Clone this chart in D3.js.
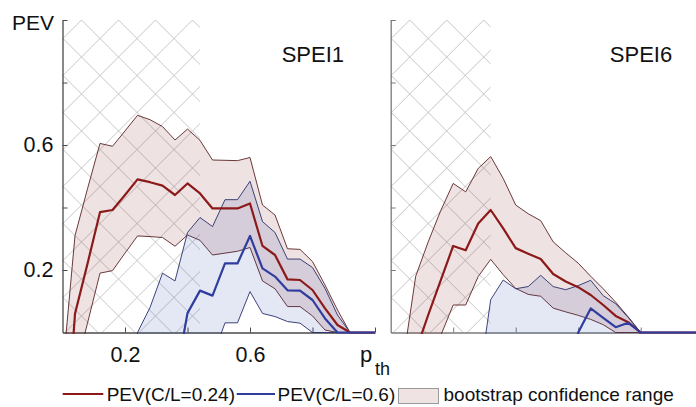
<!DOCTYPE html>
<html>
<head>
<meta charset="utf-8">
<script src="https://cdn.jsdelivr.net/npm/d3@7/dist/d3.min.js"></script>
<style>
  html, body { margin: 0; padding: 0; background: #fff; }
  svg { display: block; font-family: "Liberation Sans", Arial, Helvetica, sans-serif; }
</style>
</head>
<body>
<svg id="chart" width="696" height="407"></svg>
<script>
// ---------------- data ----------------
const pth = [0.00,0.04,0.08,0.12,0.16,0.20,0.24,0.28,0.32,0.36,0.40,0.44,0.48,0.52,0.56,0.60,0.64,0.68,0.72,0.76,0.80,0.84,0.88,0.92,0.96,1.00];

// SPEI1 panel
const spei1_pev024 = [-0.50,0.06,0.22,0.385,0.392,0.44,0.49,0.481,0.47,0.44,0.477,0.445,0.397,0.397,0.397,0.413,0.277,0.248,0.170,0.168,0.136,0.077,0.024,0,0,0];
const spei1_lo024  = [-0.30,-0.13,0.03,0.19,0.198,0.254,0.309,0.307,0.304,0.276,0.312,0.295,0.248,0.254,0.260,0.272,0.165,0.140,0.083,0.083,0.053,0.008,0,0,0,0];
const spei1_hi024  = [-0.13,0.31,0.46,0.605,0.596,0.645,0.695,0.681,0.659,0.616,0.651,0.615,0.552,0.551,0.550,0.560,0.408,0.376,0.268,0.266,0.227,0.152,0.072,0,0,0];
const spei1_pev06  = [-0.60,-0.55,-0.50,-0.45,-0.40,-0.35,-0.30,-0.25,-0.20,-0.16,0.062,0.134,0.118,0.221,0.221,0.309,0.205,0.179,0.135,0.134,0.104,0.045,0,0,0,0];
const spei1_lo06   = [-0.90,-0.85,-0.80,-0.75,-0.70,-0.60,-0.50,-0.40,-0.35,-0.30,-0.25,-0.15,-0.08,0.031,0.031,0.131,0.061,0.051,0.035,0.030,0,0,0,0,0,0];
const spei1_hi06   = [-0.60,-0.50,-0.45,-0.40,-0.30,-0.20,0.0,0.08,0.19,0.165,0.32,0.368,0.339,0.425,0.425,0.484,0.355,0.32,0.235,0.235,0.208,0.141,0.056,0,0,0];

// SPEI6 panel
const spei6_pev024 = [-0.60,-0.30,-0.06,0.056,0.167,0.277,0.263,0.349,0.392,0.333,0.27,0.252,0.235,0.187,0.163,0.145,0.12,0.088,0.053,0.033,0,0,0,0,0,0];
const spei6_lo024  = [-0.50,-0.40,-0.25,-0.11,-0.01,0.088,0.088,0.179,0.234,0.185,0.141,0.122,0.116,0.078,0.066,0.055,0.042,0.025,0,0,0,0,0,0,0,0];
const spei6_hi024  = [-0.40,-0.09,0.18,0.29,0.39,0.477,0.45,0.525,0.563,0.493,0.408,0.38,0.358,0.29,0.255,0.222,0.18,0.14,0.097,0.05,0,0,0,0,0,0];
const spei6_pev06  = [-0.90,-0.85,-0.80,-0.75,-0.70,-0.65,-0.60,-0.55,-0.50,-0.45,-0.42,-0.40,-0.38,-0.35,-0.30,0,0.077,0.047,0.017,0.031,0,0,0,0,0,0];
const spei6_lo06   = [-0.90,-0.85,-0.80,-0.75,-0.70,-0.60,-0.50,-0.45,-0.40,-0.35,-0.30,-0.28,-0.25,-0.22,-0.20,-0.18,-0.15,-0.12,-0.10,-0.05,0,0,0,0,0,0];
const spei6_hi06   = [-0.80,-0.70,-0.60,-0.50,-0.45,-0.40,-0.30,-0.175,0.105,0.168,0.14,0.147,0.183,0.147,0.137,0.15,0.167,0.118,0.092,0.048,0,0,0,0,0,0];

const panelTitles = ["SPEI1", "SPEI6"];
const hatchEnd = [0.44, 0.32];           // p_th limit of the hatched region
const yTicks = [0.2, 0.4, 0.6, 0.8, 1.0];
const yTickLabels = [0.2, 0.6];
const xTicks = [0.2, 0.4, 0.6, 0.8, 1.0];
const xTickLabels = [0.2, 0.6];
const legendLabels = ["PEV(C/L=0.24)", "PEV(C/L=0.6)", "bootstrap confidence range"];

// ---------------- styling ----------------
const RED = "#8c1a1a", BLUE = "#2e3d9e";
const RED_FILL = "rgba(125,20,20,0.12)", BLUE_FILL = "rgba(35,55,165,0.12)";
const RED_EDGE = "#5a2424", BLUE_EDGE = "#28306a";

const svg = d3.select("#chart");
const y = d3.scaleLinear().domain([0, 1]).range([332.5, 20]);

const panels = [
  { x0: 62.5, title: panelTitles[0], hatch: hatchEnd[0], axisColor: "#4a4a4a", labels: true,
    pev024: spei1_pev024, lo024: spei1_lo024, hi024: spei1_hi024,
    pev06: spei1_pev06, lo06: spei1_lo06, hi06: spei1_hi06 },
  { x0: 390.7, title: panelTitles[1], hatch: hatchEnd[1], axisColor: "#7a7a7a", labels: false,
    pev024: spei6_pev024, lo024: spei6_lo024, hi024: spei6_hi024,
    pev06: spei6_pev06, lo06: spei6_lo06, hi06: spei6_hi06 }
];

const defs = svg.append("defs");

panels.forEach((p, i) => {
  const x = d3.scaleLinear().domain([0, 1]).range([p.x0, p.x0 + 312.5]);
  const g = svg.append("g");

  // clip paths
  defs.append("clipPath").attr("id", "clip" + i)
    .append("rect").attr("x", x(0)).attr("y", y(1))
    .attr("width", x(1) - x(0)).attr("height", y(0) - y(1) + 1.5);
  defs.append("clipPath").attr("id", "hclip" + i)
    .append("rect").attr("x", x(0)).attr("y", y(1))
    .attr("width", x(p.hatch) - x(0)).attr("height", y(0) - y(1));

  // hatch
  const hg = g.append("g").attr("clip-path", `url(#hclip${i})`)
    .attr("stroke", "#c6c6c6").attr("stroke-width", 1);
  const period = 37, off = 19, L = 420;
  d3.range(-14, 15).forEach(k => {
    const cx = x(0) + off + period * k, cy = y(1);
    hg.append("line").attr("x1", cx - L).attr("y1", cy - L).attr("x2", cx + L).attr("y2", cy + L);
    hg.append("line").attr("x1", cx + L).attr("y1", cy - L).attr("x2", cx - L).attr("y2", cy + L);
  });

  // axes
  const yAxis = d3.axisLeft(y).tickValues(yTicks).tickSizeInner(-5).tickSizeOuter(0).tickPadding(9)
    .tickFormat(d => (p.labels && yTickLabels.includes(d)) ? d3.format(".1f")(d) : "");
  const ya = g.append("g").attr("transform", `translate(${x(0)},0)`).call(yAxis);
  const xAxis = d3.axisBottom(x).tickValues(xTicks).tickSizeInner(-5).tickSizeOuter(0).tickPadding(14.5)
    .tickFormat(d => (p.labels && xTickLabels.includes(d)) ? d3.format(".1f")(d) : "");
  const xa = g.append("g").attr("transform", `translate(0,${y(0)})`).call(xAxis);
  [ya, xa].forEach(a => {
    a.attr("font-family", null).attr("font-size", null);
    a.select(".domain").attr("stroke", p.axisColor).attr("stroke-width", 1.3);
    a.selectAll(".tick line").attr("stroke", p.axisColor).attr("stroke-width", 1);
    a.selectAll(".tick text").attr("fill", "#111").style("font-size", "21.5px");
  });

  // data layer
  const dg = g.append("g").attr("clip-path", `url(#clip${i})`);
  const area = (lo, hi) => d3.area().x((d, j) => x(pth[j])).y0((d, j) => y(lo[j])).y1((d, j) => y(hi[j]))(pth);
  const line = arr => d3.line().x((d, j) => x(pth[j])).y((d, j) => y(arr[j]))(pth);

  dg.append("path").attr("d", area(p.lo024, p.hi024))
    .attr("fill", RED_FILL).attr("stroke", RED_EDGE).attr("stroke-width", 0.9).attr("stroke-linejoin", "round");
  dg.append("path").attr("d", area(p.lo06, p.hi06))
    .attr("fill", BLUE_FILL).attr("stroke", BLUE_EDGE).attr("stroke-width", 0.9).attr("stroke-linejoin", "round");
  dg.append("path").attr("d", line(p.pev024))
    .attr("fill", "none").attr("stroke", RED).attr("stroke-width", 2.2).attr("stroke-linejoin", "round");
  dg.append("path").attr("d", line(p.pev06))
    .attr("fill", "none").attr("stroke", BLUE).attr("stroke-width", 2.2).attr("stroke-linejoin", "round");

  // title
  g.append("text").attr("x", x(1) - 31).attr("y", 61.5).attr("text-anchor", "end")
    .style("font-size", "22px").attr("fill", "#111").text(p.title);
});

// y label
svg.append("text").attr("x", 12).attr("y", 29.5).style("font-size", "21px").attr("fill", "#111").text("PEV");

// x label p_th
const xl = svg.append("text").attr("x", 360).attr("y", 362).attr("fill", "#111");
xl.append("tspan").style("font-size", "22px").text("p");
xl.append("tspan").attr("x", 375).attr("y", 375).style("font-size", "18px").text("th");

// legend
const lg = svg.append("g").style("font-size", "19px").attr("fill", "#111");
lg.append("line").attr("x1", 62.7).attr("x2", 103.3).attr("y1", 394).attr("y2", 394)
  .attr("stroke", RED).attr("stroke-width", 2);
lg.append("text").attr("x", 106.7).attr("y", 400.5).text(legendLabels[0]);
lg.append("line").attr("x1", 236.7).attr("x2", 275).attr("y1", 394).attr("y2", 394)
  .attr("stroke", BLUE).attr("stroke-width", 2);
lg.append("text").attr("x", 277.5).attr("y", 400.5).text(legendLabels[1]);
lg.append("rect").attr("x", 398.5).attr("y", 388.5).attr("width", 40).attr("height", 15)
  .attr("fill", "#efe3e4").attr("stroke", "#9a9a9a").attr("stroke-width", 1);
lg.append("text").attr("x", 443.5).attr("y", 400.5).text(legendLabels[2]);
</script>
</body>
</html>
